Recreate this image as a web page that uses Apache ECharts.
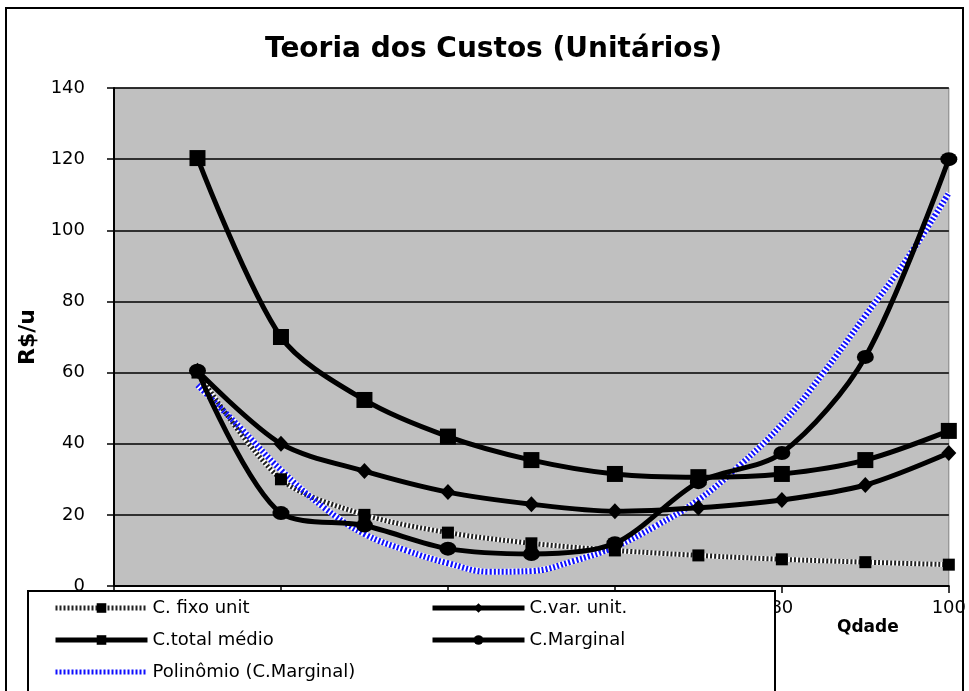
<!DOCTYPE html>
<html>
<head>
<meta charset="utf-8">
<script src="https://cdn.jsdelivr.net/npm/echarts@6/dist/echarts.min.js"></script>
<style>
  html, body { margin: 0; padding: 0; background: #ffffff; }
  #chart { width: 969px; height: 691px; }
</style>
</head>
<body>
<div id="chart"></div>
<script>
// values
const qdade = [10, 20, 30, 40, 50, 60, 70, 80, 90, 100];
const fixoUnit = [60, 30, 20, 15, 12, 10, 8.6, 7.5, 6.7, 6];
const varUnit = [60.5, 40, 32.3, 26.4, 23, 21, 22, 24.2, 28.4, 37.4];
const totalMedio = [120.3, 70, 52.3, 42, 35.4, 31.5, 30.6, 31.5, 35.4, 43.6];
const marginal = [60.5, 20.5, 17, 10.5, 9, 12, 29.2, 37.4, 64.4, 120];
// trend line (Polinômio) sampled along the drawn curve
const polyX = [10, 15, 20, 25, 30, 35, 40, 45, 50, 55, 60, 65, 70, 75, 80, 85, 90, 95, 100];
const polyY = [56.5, 44.8, 32.6, 22.3, 14.6, 10, 6.4, 4, 4.2, 7, 11, 17, 24.2, 34, 45.5, 60, 76, 92, 110.5];
const yTicks = [0, 20, 40, 60, 80, 100, 120, 140];

const FONT = 'DejaVu Sans, Liberation Sans, sans-serif';
const pair = (xs, ys) => xs.map((x, i) => [x, ys[i]]);

const chart = echarts.init(document.getElementById('chart'), null, { renderer: 'canvas' });

const legendBase = {
  top: 594, orient: 'vertical', height: 150, padding: 5,
  itemWidth: 92, itemHeight: 12, itemGap: 14,
  textStyle: { fontFamily: FONT, fontSize: 18, color: '#000' },
  lineStyle: { width: 5 },
  z: 6,
};

const option = {
  animation: false,
  backgroundColor: '#ffffff',
  textStyle: { fontFamily: FONT },
  title: {
    text: 'Teoria dos Custos (Unitários)',
    left: 260,
    top: 31,
    textStyle: { fontFamily: FONT, fontSize: 28, fontWeight: 'bold', color: '#000' },
  },
  grid: {
    left: 114, right: 17, top: 88, bottom: 105,
    show: true,
    backgroundColor: '#c0c0c0',
    borderColor: '#808080',
    borderWidth: 1,
  },
  xAxis: {
    type: 'value',
    min: 0, max: 100, interval: 20,
    axisLine: { lineStyle: { color: '#000', width: 2 } },
    axisTick: { show: true, length: 7, lineStyle: { color: '#000', width: 1.5 } },
    axisLabel: { color: '#000', fontSize: 18, fontFamily: FONT, margin: 13 },
    splitLine: { show: false },
  },
  yAxis: {
    type: 'value',
    min: yTicks[0], max: yTicks[yTicks.length - 1], interval: 20,
    name: 'R$/u',
    nameLocation: 'middle',
    nameGap: 68,
    nameTextStyle: { fontFamily: FONT, fontSize: 22, fontWeight: 'bold', color: '#000' },
    axisLine: { show: true, lineStyle: { color: '#000', width: 2 } },
    axisTick: { show: true, length: 7, lineStyle: { color: '#000', width: 1.5 } },
    axisLabel: { color: '#000', fontSize: 18, fontFamily: FONT, margin: 29, align: 'right' },
    splitLine: { show: true, lineStyle: { color: '#000', width: 1.5 } },
  },
  legend: [
    Object.assign({}, legendBase, {
      left: 48,
      data: [
        'C. fixo unit',
        'C.total médio',
        { name: 'Polinômio (C.Marginal)', itemStyle: { color: 'rgba(0,0,0,0)', borderWidth: 0 } },
      ],
    }),
    Object.assign({}, legendBase, {
      left: 425,
      data: ['C.var. unit.', 'C.Marginal'],
    }),
  ],
  graphic: [
    {
      type: 'rect', z: 5,
      shape: { x: 28, y: 591, width: 747, height: 110 },
      style: { fill: '#ffffff', stroke: '#000', lineWidth: 2 },
    },
    {
      type: 'rect', z: 5,
      shape: { x: 6, y: 8, width: 957, height: 700 },
      style: { fill: null, stroke: '#000', lineWidth: 2 },
    },
    {
      type: 'text', z: 5, left: 837, top: 619,
      style: { text: 'Qdade', fontFamily: FONT, fontSize: 17, fontWeight: 'bold', fill: '#000' },
    },
  ],
  series: [
    // white underlays for the patterned lines
    {
      name: 'fixo-base', type: 'line', data: pair(qdade, fixoUnit), smooth: 0.3,
      showSymbol: false, silent: true, z: 1,
      lineStyle: { color: '#ffffff', width: 5 },
    },
    {
      name: 'poly-base', type: 'line', data: pair(polyX, polyY), smooth: 0.4,
      showSymbol: false, silent: true, z: 1,
      lineStyle: { color: '#ffffff', width: 6 },
    },
    {
      name: 'C. fixo unit', type: 'line', data: pair(qdade, fixoUnit), smooth: 0.3,
      symbol: 'rect', symbolSize: 12, z: 2,
      itemStyle: { color: '#000' },
      lineStyle: { color: '#222', width: 5, type: [2, 2] },
    },
    {
      name: 'C.var. unit.', type: 'line', data: pair(qdade, varUnit), smooth: 0.3,
      symbol: 'diamond', symbolSize: [15, 16], z: 3,
      itemStyle: { color: '#000' },
      lineStyle: { color: '#000', width: 5 },
    },
    {
      name: 'C.total médio', type: 'line', data: pair(qdade, totalMedio), smooth: 0.3,
      symbol: 'rect', symbolSize: 16, z: 3,
      itemStyle: { color: '#000' },
      lineStyle: { color: '#000', width: 5 },
    },
    {
      name: 'C.Marginal', type: 'line', data: pair(qdade, marginal), smooth: 0.3,
      symbol: 'circle', symbolSize: [17, 14], z: 3,
      itemStyle: { color: '#000' },
      lineStyle: { color: '#000', width: 5 },
    },
    {
      name: 'Polinômio (C.Marginal)', type: 'line', data: pair(polyX, polyY), smooth: 0.4,
      showSymbol: false, symbol: 'none', z: 2,
      itemStyle: { color: '#1010ff' },
      lineStyle: { color: '#1010ff', width: 6, type: [2, 2] },
    },
  ],
};

chart.setOption(option);
</script>
</body>
</html>
